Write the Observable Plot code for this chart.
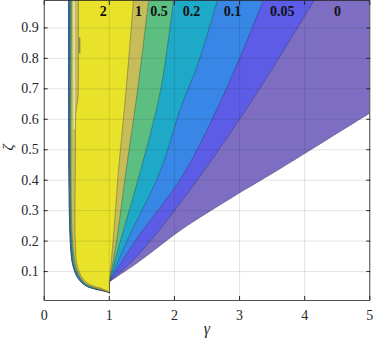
<!DOCTYPE html>
<html><head><meta charset="utf-8">
<script src="https://cdn.jsdelivr.net/npm/d3@7"></script>
<script src="https://cdn.jsdelivr.net/npm/@observablehq/plot@0.6"></script>
<style>html,body{margin:0;padding:0;background:#fff;}</style>
</head><body><div id="chart"></div>
<script>
// contour levels (band lower bounds) and their colours
const levels = [0, 0.05, 0.1, 0.2, 0.5, 1, 2];
const levelLabels = ["0", "0.05", "0.1", "0.2", "0.5", "1", "2"];
const bandColors = ["#7d6ec3", "#5c5ce6", "#3886e6", "#1fa9c9", "#5cbe80", "#c7bc5a", "#e8e22a"];
const labelGamma = [4.505, 3.656, 2.893, 2.263, 1.764, 1.448, 0.908];
const labelZeta = [0.953, 0.953, 0.953, 0.953, 0.953, 0.953, 0.953];

// left edges of the regions f >= level  ([gamma, zeta], bottom -> top)
const left0 = [[1.003,0.0303],[0.972,0.0332],[0.793,0.0421],[0.639,0.0533],[0.512,0.0803],[0.435,0.1247],[0.409,0.1691],[0.393,0.2349],[0.378,0.4322],[0.373,1.02]];
const left02 = [[1.003,0.0306],[0.865,0.0391],[0.757,0.0441],[0.634,0.0553],[0.527,0.0809],[0.450,0.1214],[0.419,0.1658],[0.404,0.2316],[0.389,0.4322],[0.389,1.02]];
const left05 = [[1.003,0.0309],[0.865,0.0401],[0.757,0.0457],[0.634,0.0572],[0.535,0.0819],[0.458,0.1197],[0.432,0.1625],[0.412,0.2283],[0.401,0.4322],[0.404,1.02]];
const left1 = [[1.003,0.0313],[0.865,0.0414],[0.757,0.0480],[0.634,0.0605],[0.542,0.0852],[0.481,0.1197],[0.450,0.1625],[0.427,0.2283],[0.412,0.4322],[0.419,1.02]];
const left2 = [[1.003,0.0326],[0.865,0.0457],[0.757,0.0523],[0.634,0.0671],[0.542,0.0967],[0.496,0.1296],[0.481,0.1789],[0.473,0.2349],[0.481,0.4980],[0.486,0.62],[0.518,0.67],[0.526,0.80],[0.526,1.02]];

// right edges (contour lines) of the regions f >= level ([gamma, zeta], apex -> top)
const right0 = [[1.0,0.066],[1.48,0.136],[2.09,0.235],[2.9,0.345],[3.58,0.432],[5.0,0.62],[5.2,0.646],[5.2,1.02]];
const right005 = [[1.0,0.066],[1.479,0.163],[2.37,0.406],[3.292,0.695],[4.23,1.02]];
const right01 = [[1.0,0.066],[1.402,0.202],[2.124,0.415],[2.785,0.695],[3.42,1.02]];
const right02 = [[1.0,0.066],[1.275,0.202],[1.786,0.432],[2.094,0.636],[2.37,0.788],[2.70,1.02]];
const right05 = [[1.0,0.066],[1.172,0.202],[1.479,0.432],[1.786,0.695],[2.0,1.02]];
const right1 = [[1.0,0.066],[1.111,0.202],[1.257,0.432],[1.433,0.695],[1.62,1.02]];
const right2 = [[1.0,0.066],[1.065,0.218],[1.141,0.432],[1.257,0.695],[1.38,1.02]];

// small artefacts along the left edge near the top
const paleStreak = [[0.458,1.02],[0.458,0.80],[0.460,0.57]];
const darkDash = [[0.543,0.869],[0.543,0.817]];

const xTicks = [0, 1, 2, 3, 4, 5];
const xTickLabels = ["0", "1", "2", "3", "4", "5"];
const yTicks = [0.1, 0.2, 0.3, 0.4, 0.5, 0.6, 0.7, 0.8, 0.9];
const yTickLabels = ["0.1", "0.2", "0.3", "0.4", "0.5", "0.6", "0.7", "0.8", "0.9"];

const leftCurves = [left0, left0, left0, left02, left05, left1, left2];
const rightCurves = [right0, right005, right01, right02, right05, right1, right2];
// closed outline of each region; corner points repeated so the smooth curve keeps them sharp
const polygons = levels.map((lv, i) => {
  const L = leftCurves[i], R = rightCurves[i].slice().reverse();
  const n = R.length;
  return [L[0], ...L, L[L.length - 1], R[0], ...R, R[n - 1], L[0]];
});

const ink = "#262626";
const serif = "'Liberation Serif', 'DejaVu Serif', serif";
const chart = Plot.plot({
  width: 374, height: 342,
  marginLeft: 43.7, marginRight: 4.7, marginTop: 0, marginBottom: 42,
  x: {domain: [0, 5]},
  y: {domain: [0.005, 0.99]},
  style: {fontFamily: serif, fontSize: "14px", color: ink, background: "white"},
  marks: [
    ...polygons.map((poly, i) => Plot.line(poly, {
      x: d => d[0], y: d => d[1], fill: bandColors[i], stroke: "#2a2a2a",
      strokeOpacity: 0.55, strokeWidth: 0.6, curve: "catmull-rom", clip: true
    })),
    Plot.line(paleStreak, {x: d => d[0], y: d => d[1], stroke: "#f6f1d8", strokeWidth: 1.1, clip: true}),
    Plot.line(darkDash, {x: d => d[0], y: d => d[1], stroke: "#8c8a4c", strokeWidth: 1.6, strokeLinecap: "butt", clip: true}),
    Plot.gridX(xTicks, {stroke: ink, strokeOpacity: 0.13}),
    Plot.gridY(yTicks, {stroke: ink, strokeOpacity: 0.13}),
    Plot.text(levelLabels, {x: (d, i) => labelGamma[i], y: (d, i) => labelZeta[i], text: d => d,
      fontWeight: "bold", fontSize: 14, fontFamily: serif, fill: "#111"}),
    Plot.frame({stroke: ink, strokeWidth: 0.8}),
    Plot.axisX(xTicks, {tickSize: -4, tickPadding: 14, tickFormat: d => xTickLabels[xTicks.indexOf(d)], label: null, stroke: ink, fontFamily: serif, fontSize: 14}),
    Plot.axisX(xTicks, {anchor: "top", tickSize: -4, tickFormat: () => "", label: null, stroke: ink}),
    Plot.axisY(yTicks, {tickSize: -4, tickPadding: 9.5, tickFormat: d => yTickLabels[yTicks.indexOf(d)], label: null, stroke: ink, fontFamily: serif, fontSize: 14}),
    Plot.axisY(yTicks, {anchor: "right", tickSize: -4, tickFormat: () => "", label: null, stroke: ink}),
    Plot.text(["γ"], {frameAnchor: "bottom", dy: 33, text: d => d, fontStyle: "italic", fontFamily: serif, fontSize: 16}),
    Plot.text(["ζ"], {frameAnchor: "left", dx: -36, rotate: -90, text: d => d, fontStyle: "italic", fontFamily: serif, fontSize: 15})
  ]
});
document.getElementById("chart").append(chart);
</script>
</body></html>
